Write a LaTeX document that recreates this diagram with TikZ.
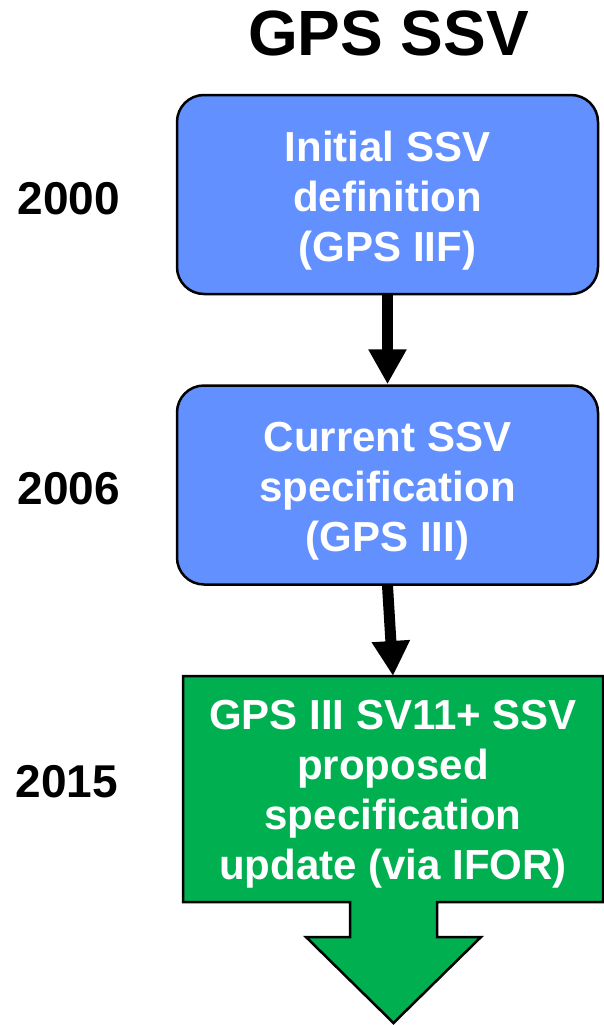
\documentclass[tikz,border=0pt]{standalone}
\usepackage{fontspec}
\setmainfont{Liberation Sans}
\usetikzlibrary{arrows.meta}
\definecolor{boxblue}{RGB}{98,144,255}
\definecolor{boxgreen}{RGB}{0,176,80}
\begin{document}
\begin{tikzpicture}[x=1pt,y=-1pt,
  bluebox/.style={draw=black,line width=2.5pt,fill=boxblue,rounded corners=27pt,
    minimum width=421pt,minimum height=199pt,inner sep=0pt},
  boxtext/.style={text=white,font=\bfseries\fontsize{42}{50}\selectfont,align=center,inner sep=0pt},
  yeartext/.style={font=\bfseries\fontsize{46}{50}\selectfont,anchor=base,inner sep=0pt},
  flowarrow/.style={line width=11pt,-{Triangle[width=36pt,length=35pt]}},
]
\useasboundingbox (0,0) rectangle (604,1025);
% title
\node[font=\bfseries\fontsize{64}{70}\selectfont,anchor=base,inner sep=0pt] (title) at (388.5,56) {GPS SSV};
% years
\node[yeartext] (y1) at (69,214) {2000};
\node[yeartext] (y2) at (69,504) {2006};
\node[yeartext] (y3) at (67,797) {2015};
% boxes
\node[bluebox] (b1) at (387.5,194.5) {};
\node[boxtext] (t1) at (387.5,201) {Initial SSV\\definition\\(GPS IIF)};
\node[bluebox] (b2) at (387.5,485) {};
\node[boxtext] (t2) at (387.5,491) {Current SSV\\specification\\(GPS III)};
% green box arrow
\draw[line width=2.5pt,fill=boxgreen,line join=miter]
  (183,676) -- (603,676) -- (603,902) -- (437,902) -- (437,937) -- (481,937)
  -- (393.5,1023) -- (306,937) -- (350,937) -- (350,902) -- (183,902) -- cycle;
\coordinate (g) at (393,676);
\node[boxtext] (t3) at (393,794) {GPS III SV11+ SSV\\proposed\\specification\\update (via IFOR)};
% connectors
\draw[flowarrow] (b1.south) -- (b2.north);
\draw[flowarrow] (b2.south) -- (g);
\end{tikzpicture}
\end{document}
